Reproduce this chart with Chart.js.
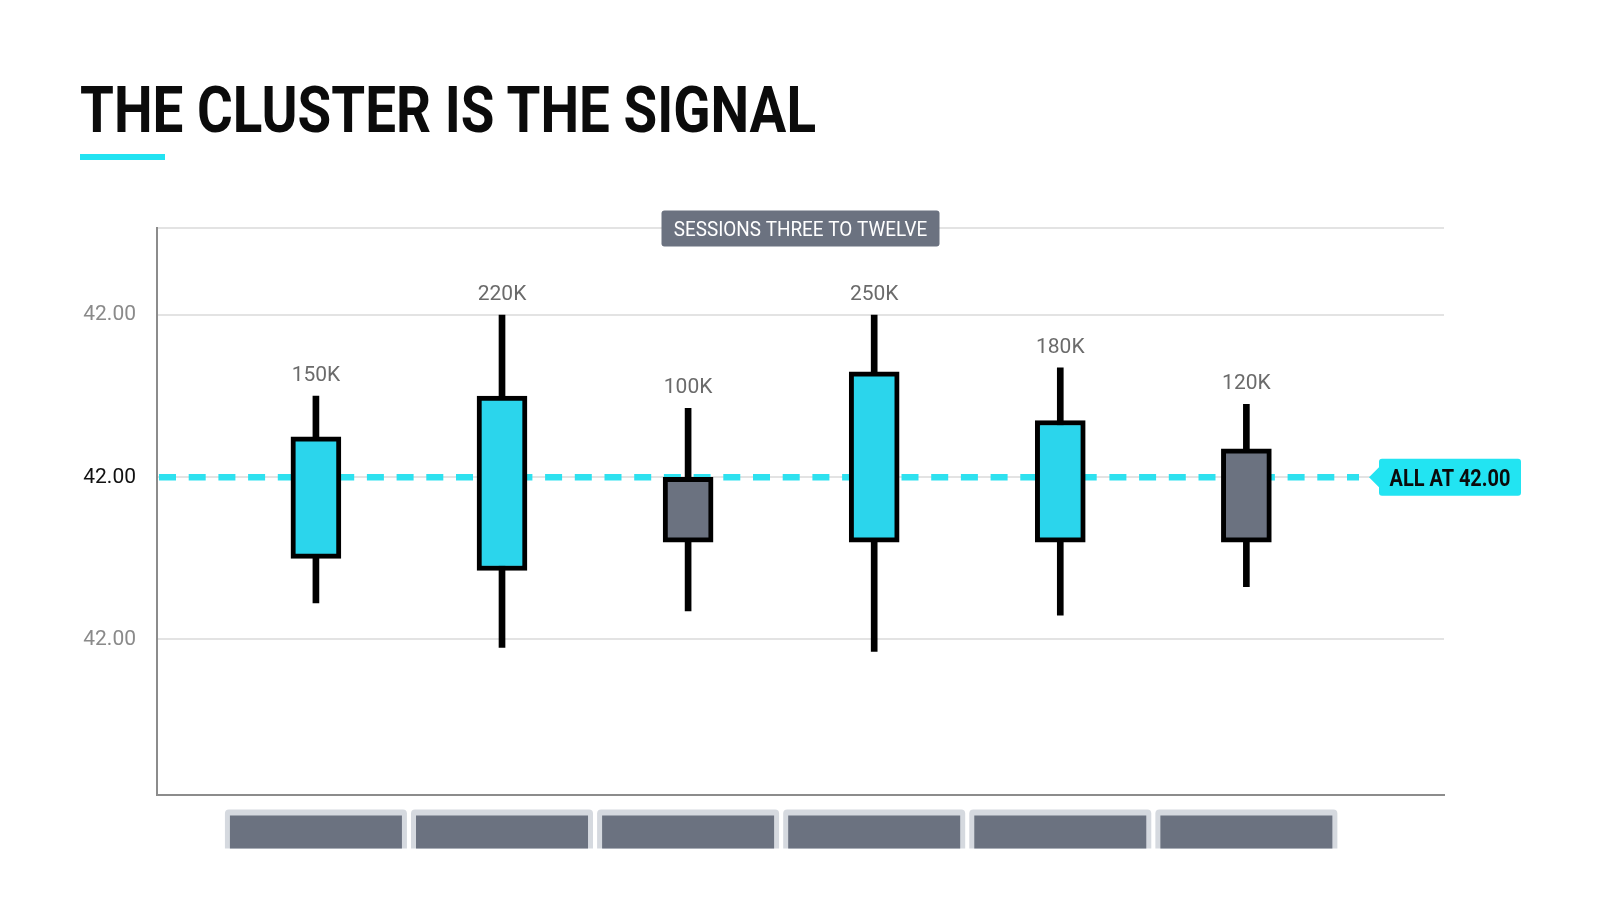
<!DOCTYPE html>
<html lang="en">
<head>
    <meta charset="UTF-8">
    <title>The Cluster Is The Signal</title>
    <script src="https://cdn.jsdelivr.net/npm/chart.js"></script>
    <style>
        html, body { margin: 0; padding: 0; background: #fff; }
        body { width: 1600px; height: 914px; position: relative; overflow: hidden; }
        #title {
            position: absolute; left: 80px; top: 78px; margin: 0;
            display: inline-block; white-space: nowrap;
            font: 700 65px/65px Roboto, sans-serif; color: #0b0b0b;
            transform-origin: 0 0;
        }
        #accent { position: absolute; left: 80px; top: 154px; width: 85px; height: 6px; background: #22e3f2; }
        #chart { position: absolute; left: 0; top: 0; }
    </style>
</head>
<body>
    <h1 id="title">THE CLUSTER IS THE SIGNAL</h1>
    <div id="accent"></div>
    <canvas id="chart" width="1600" height="914"></canvas>

    <script>
        // sessions shown as six candles
        const slots   = [0, 1, 2, 3, 4, 5];
        const opens   = [41.9980, 41.9977, 42.0000, 41.9984, 41.9984, 42.0007];
        const highs   = [42.0020, 42.0040, 42.0017, 42.0040, 42.0027, 42.0018];
        const lows    = [41.9969, 41.9958, 41.9967, 41.9957, 41.9966, 41.9973];
        const closes  = [42.0010, 42.0020, 41.9984, 42.0026, 42.0014, 41.9984];
        const volumes = ['150K', '220K', '100K', '250K', '180K', '120K'];

        const yTicks      = [41.996, 42.000, 42.004, 42.00615];
        const yTickLabels = ['42.00', '42.00', '42.00', ''];

        const level      = 42.00;
        const levelLabel = 'ALL AT 42.00';
        const rangeLabel = 'SESSIONS THREE TO TWELVE';

        const cyan = '#2bd5ec';
        const gray = '#6b7280';

        // squeeze the title to the condensed width of the reference
        const title = document.getElementById('title');
        title.style.transform = 'scaleX(' + (736 / title.getBoundingClientRect().width) + ')';

        function drawText(ctx, text, x, y, font, color, sx) {
            ctx.save();
            ctx.font = font;
            ctx.fillStyle = color;
            ctx.textAlign = 'center';
            ctx.textBaseline = 'alphabetic';
            ctx.translate(x, y);
            ctx.scale(sx, 1);
            ctx.fillText(text, 0, 0);
            ctx.restore();
        }

        function roundRect(ctx, x, y, w, h, r) {
            ctx.beginPath();
            ctx.moveTo(x + r, y);
            ctx.lineTo(x + w - r, y);
            ctx.quadraticCurveTo(x + w, y, x + w, y + r);
            ctx.lineTo(x + w, y + h - r);
            ctx.quadraticCurveTo(x + w, y + h, x + w - r, y + h);
            ctx.lineTo(x + r, y + h);
            ctx.quadraticCurveTo(x, y + h, x, y + h - r);
            ctx.lineTo(x, y + r);
            ctx.quadraticCurveTo(x, y, x + r, y);
            ctx.closePath();
        }

        const overlay = {
            id: 'overlay',
            beforeDatasetsDraw(chart) {
                // dashed level line, behind the candles
                const { ctx, chartArea, scales: { y } } = chart;
                const yy = y.getPixelForValue(level);
                const tipX = chartArea.right - 75;
                ctx.save();
                ctx.strokeStyle = '#2ee1ef';
                ctx.lineWidth = 6.5;
                ctx.setLineDash([17, 12.7]);
                ctx.beginPath();
                ctx.moveTo(chartArea.left + 2, yy);
                ctx.lineTo(tipX - 10, yy);
                ctx.stroke();
                ctx.restore();
            },
            afterDatasetsDraw(chart) {
                const { ctx, chartArea, scales: { x, y } } = chart;

                // volume labels over each wick
                slots.forEach((s, i) => {
                    drawText(ctx, volumes[i], x.getPixelForValue(s), y.getPixelForValue(highs[i]) - 15,
                        '400 21px Roboto', '#6b6b6b', 1);
                });

                // level tag
                const yy = y.getPixelForValue(level);
                const tipX = chartArea.right - 75;
                const bx = tipX + 10, bw = 142, bh = 37;
                ctx.save();
                ctx.fillStyle = '#22e4f2';
                roundRect(ctx, bx, yy - bh / 2, bw, bh, 3);
                ctx.fill();
                ctx.beginPath();
                ctx.moveTo(bx + 1, yy - 11);
                ctx.lineTo(tipX, yy);
                ctx.lineTo(bx + 1, yy + 11);
                ctx.closePath();
                ctx.fill();
                ctx.restore();
                drawText(ctx, levelLabel, bx + bw / 2, yy + 8.5, '700 24px Roboto', '#0b0b0b', 0.83);

                // range tag on the top border
                const cx = (chartArea.left + chartArea.right) / 2;
                const rw = 278, rh = 36;
                ctx.save();
                ctx.fillStyle = gray;
                roundRect(ctx, cx - rw / 2, chartArea.top - rh / 2 + 0.5, rw, rh, 3);
                ctx.fill();
                ctx.restore();
                drawText(ctx, rangeLabel, cx, chartArea.top + 7.8, '400 21px Roboto', '#ffffff', 0.9);
            },
            afterDraw(chart) {
                // blank label chips under the x axis
                const { ctx, chartArea, scales: { x } } = chart;
                const top = chartArea.bottom + 14.5;
                const clipY = chartArea.bottom + 53.5;
                ctx.save();
                ctx.beginPath();
                ctx.rect(0, 0, chart.width, clipY);
                ctx.clip();
                slots.forEach(s => {
                    const cx = x.getPixelForValue(s);
                    ctx.fillStyle = '#d5d9df';
                    roundRect(ctx, cx - 91, top, 182, 60, 4);
                    ctx.fill();
                    ctx.fillStyle = gray;
                    ctx.fillRect(cx - 86, top + 6, 172, 60);
                });
                ctx.restore();
            }
        };

        const isUp = slots.map(i => closes[i] >= opens[i]);

        new Chart(document.getElementById('chart'), {
            type: 'bar',
            data: {
                datasets: [
                    {
                        label: 'Body',
                        data: slots.map(i => ({ x: i, y: [opens[i], closes[i]] })),
                        backgroundColor: isUp.map(u => (u ? cyan : gray)),
                        borderColor: '#000',
                        borderWidth: 5,
                        borderSkipped: false,
                        barThickness: 50,
                        grouped: false,
                        order: 1
                    },
                    {
                        label: 'Wick',
                        data: slots.map(i => ({ x: i, y: [lows[i], highs[i]] })),
                        backgroundColor: '#000',
                        barThickness: 6,
                        grouped: false,
                        order: 2
                    }
                ]
            },
            options: {
                responsive: false,
                animation: false,
                layout: { padding: { top: 228, right: 156, left: 0, bottom: 0 } },
                plugins: { legend: { display: false }, tooltip: { enabled: false } },
                scales: {
                    x: {
                        type: 'linear',
                        offset: false,
                        min: -0.854,
                        max: 6.062,
                        afterBuildTicks: s => { s.ticks = slots.map(v => ({ value: v })); },
                        afterFit: s => { s.height = 119; },
                        ticks: { display: false },
                        grid: { display: false, drawTicks: false, offset: false },
                        border: { display: true, color: '#8c8c8c', width: 2 }
                    },
                    y: {
                        min: 41.99216,
                        max: 42.00615,
                        afterBuildTicks: s => { s.ticks = yTicks.map(v => ({ value: v })); },
                        afterFit: s => { s.width = 157; },
                        ticks: {
                            autoSkip: false,
                            padding: 21,
                            color: c => (c.index === 1 ? '#111111' : '#8a8a8a'),
                            font: { family: 'Roboto', size: 21 },
                            callback: (v, i) => yTickLabels[i]
                        },
                        grid: { color: '#e3e3e3', lineWidth: 2, drawTicks: false },
                        border: { display: true, color: '#8c8c8c', width: 2 }
                    }
                }
            },
            plugins: [overlay]
        });
    </script>
</body>
</html>
